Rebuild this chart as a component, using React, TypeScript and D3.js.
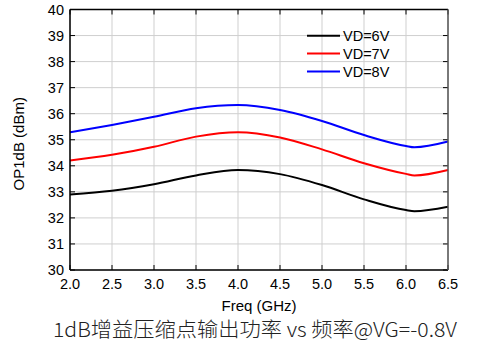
import React from "react";
import * as d3 from "d3";

const freq = [2.0, 2.5, 3.0, 3.5, 4.0, 4.5, 5.0, 5.5, 6.0, 6.1, 6.5];
const vd6 = [32.9, 33.04, 33.29, 33.63, 33.84, 33.68, 33.26, 32.71, 32.3, 32.26, 32.43];
const vd7 = [34.2, 34.42, 34.73, 35.12, 35.29, 35.09, 34.63, 34.1, 33.69, 33.63, 33.84];
const vd8 = [35.29, 35.57, 35.88, 36.21, 36.33, 36.14, 35.72, 35.18, 34.76, 34.71, 34.93];
const seriesNames = ["VD=6V", "VD=7V", "VD=8V"];
const seriesColors = ["#000000", "#ff0000", "#0000ff"];
const xTicks = [2.0, 2.5, 3.0, 3.5, 4.0, 4.5, 5.0, 5.5, 6.0, 6.5];
const yTicks = [30, 31, 32, 33, 34, 35, 36, 37, 38, 39, 40];
const xTitle = "Freq (GHz)";
const yTitle = "OP1dB (dBm)";
const chartTitle = "1dB增益压缩点输出功率 vs 频率@VG=-0.8V";

export default function App() {
  const L = 70, R = 448, T = 9.5, B = 270;
  const x = d3.scaleLinear().domain([2, 6.5]).range([L, R]);
  const y = d3.scaleLinear().domain([30, 40]).range([B, T]);
  const line = d3
    .line<number>()
    .x((_, i) => x(freq[i]))
    .y((d) => y(d))
    .curve(d3.curveMonotoneX);
  const all = [vd6, vd7, vd8];
  const font = "'Liberation Sans', Arial, sans-serif";
  return (
    <svg width={478} height={356} style={{ position: "absolute", left: 0, top: 0, background: "#fff" }}>
      {xTicks.map((t) => (
        <line key={"gx" + t} x1={x(t)} x2={x(t)} y1={T} y2={B} stroke="#cfcfcf" strokeWidth={1} />
      ))}
      {yTicks.map((t) => (
        <line key={"gy" + t} x1={L} x2={R} y1={y(t)} y2={y(t)} stroke="#cfcfcf" strokeWidth={1} />
      ))}
      {xTicks.map((t) => (
        <g key={"tx" + t}>
          <line x1={x(t)} x2={x(t)} y1={B} y2={B - 5} stroke="#000" strokeWidth={1} />
          <line x1={x(t)} x2={x(t)} y1={T} y2={T + 5} stroke="#000" strokeWidth={1} />
          <text x={x(t)} y={B + 19} textAnchor="middle" fontFamily={font} fontSize={14.5} fill="#000">
            {t.toFixed(1)}
          </text>
        </g>
      ))}
      {yTicks.map((t) => (
        <g key={"ty" + t}>
          <line x1={L} x2={L + 5} y1={y(t)} y2={y(t)} stroke="#000" strokeWidth={1} />
          <line x1={R} x2={R - 5} y1={y(t)} y2={y(t)} stroke="#000" strokeWidth={1} />
          <text x={64} y={y(t) + 5} textAnchor="end" fontFamily={font} fontSize={14.5} fill="#000">
            {t}
          </text>
        </g>
      ))}
      {all.map((s, i) => (
        <path key={"s" + i} d={line(s) || ""} fill="none" stroke={seriesColors[i]} strokeWidth={2} />
      ))}
      <line x1={L} x2={R} y1={T} y2={T} stroke="#000" strokeWidth={1.5} />
      <line x1={L} x2={L} y1={T} y2={B} stroke="#000" strokeWidth={1.5} />
      <line x1={L} x2={R} y1={B} y2={B} stroke="#000" strokeWidth={1.5} />
      <line x1={R} x2={R} y1={T} y2={B} stroke="#555" strokeWidth={1.5} />
      {seriesNames.map((n, i) => (
        <g key={"lg" + i}>
          <line x1={307} x2={340} y1={35.7 + i * 17.9} y2={35.7 + i * 17.9} stroke={seriesColors[i]} strokeWidth={2} />
          <text x={343} y={35.7 + i * 17.9 + 5} fontFamily={font} fontSize={14.5} fill="#000">
            {n}
          </text>
        </g>
      ))}
      <text x={(L + R) / 2} y={311} textAnchor="middle" fontFamily={font} fontSize={15} fill="#000">
        {xTitle}
      </text>
      <text
        transform={`translate(24, ${(T + B) / 2 + 4}) rotate(-90)`}
        textAnchor="middle"
        fontFamily={font}
        fontSize={15}
        fill="#000"
      >
        {yTitle}
      </text>
      <text
        x={53}
        y={337}
        textLength={404}
        lengthAdjust="spacingAndGlyphs"
        fontFamily="'Noto Sans CJK SC', sans-serif"
        fontWeight={300}
        fontSize={20}
        fill="#222"
      >
        {chartTitle}
      </text>
    </svg>
  );
}
